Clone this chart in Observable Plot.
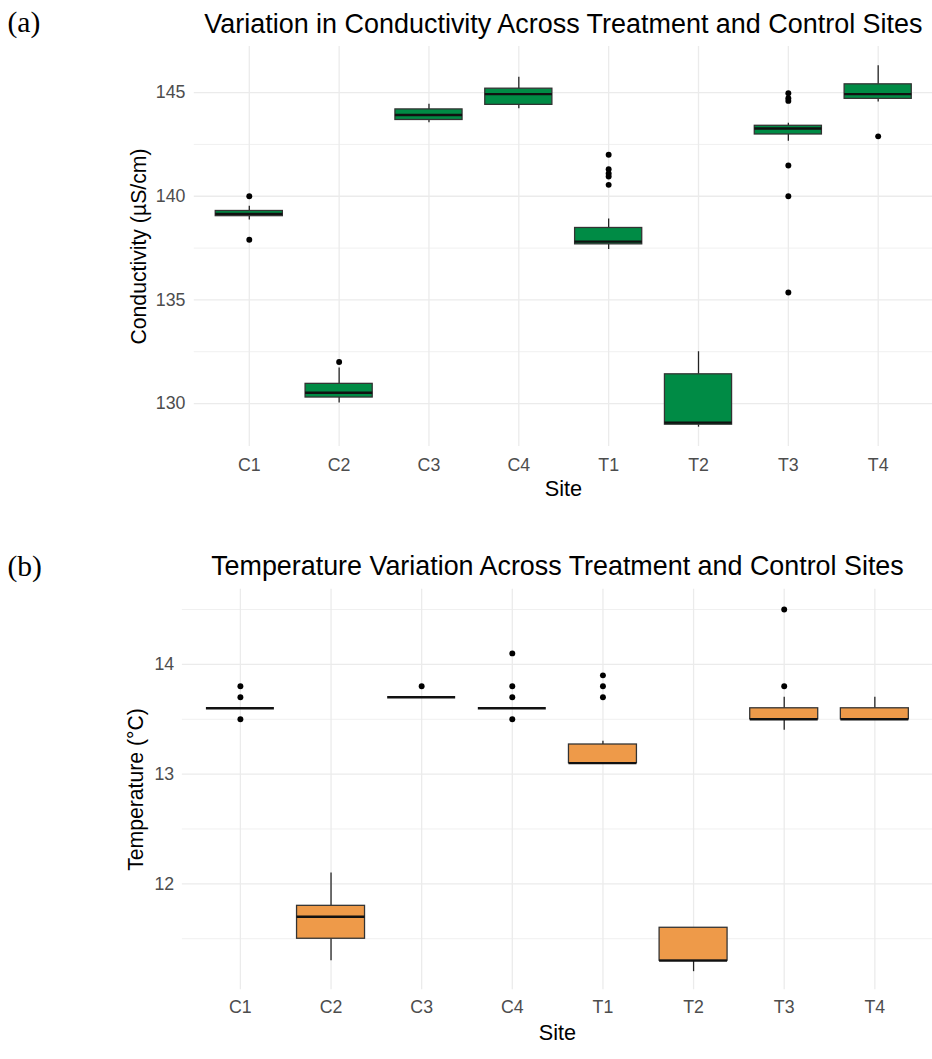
<!DOCTYPE html>
<html><head><meta charset="utf-8">
<script src="https://cdn.jsdelivr.net/npm/d3@7"></script>
<script src="https://cdn.jsdelivr.net/npm/@observablehq/plot@0.6"></script>
<style>
body{margin:0;background:#fff;}
#wrap{position:relative;width:932px;height:1059px;overflow:hidden;background:#fff;}
#wrap svg{display:block;}
</style></head><body><div id="wrap"></div>
<script>
const sites = ["C1","C2","C3","C4","T1","T2","T3","T4"];

// Panel (a): Conductivity (µS/cm) box-plot summaries
const condLow    = [138.85, 130.03, 143.55, 144.22, 137.43, 128.86, 142.65, 144.55];
const condQ1     = [139.04, 130.29, 143.68, 144.41, 137.68, 128.98, 142.98, 144.70];
const condMedian = [139.15, 130.52, 143.92, 144.93, 137.81, 129.08, 143.27, 144.93];
const condQ3     = [139.29, 130.95, 144.19, 145.19, 138.47, 131.41, 143.40, 145.40];
const condHigh   = [139.52, 131.71, 144.44, 145.74, 138.90, 132.50, 143.52, 146.30];
const condOutliers = [[140.0, 137.9], [132.0], [], [], [142.0, 141.3, 141.1, 140.95, 140.55], [], [144.97, 144.73, 144.6, 141.48, 140.0, 135.36], [142.89]];
const condTicks = [130, 135, 140, 145];
const condMinor = [132.5, 137.5, 142.5];

// Panel (b): Temperature (°C) box-plot summaries
const tempLow    = [13.6, 11.3, 13.7, 13.6, 13.1, 11.2, 13.4, 13.5];
const tempQ1     = [13.6, 11.5, 13.7, 13.6, 13.1, 11.3, 13.5, 13.5];
const tempMedian = [13.6, 11.7, 13.7, 13.6, 13.1, 11.3, 13.5, 13.5];
const tempQ3     = [13.6, 11.8, 13.7, 13.6, 13.27, 11.6, 13.6, 13.6];
const tempHigh   = [13.6, 12.1, 13.7, 13.6, 13.3, 11.6, 13.7, 13.7];
const tempOutliers = [[13.8, 13.7, 13.5], [], [13.8], [14.1, 13.8, 13.7, 13.5], [13.9, 13.8, 13.7], [], [14.5, 13.8], []];
const tempTicks = [12, 13, 14];
const tempMinor = [11.5, 12.5, 13.5, 14.5];

function panel(cfg) {
  const rows = sites.map((s, i) => ({site: s, low: cfg.low[i], q1: cfg.q1[i], median: cfg.median[i], q3: cfg.q3[i], high: cfg.high[i]}));
  const outs = sites.flatMap((s, i) => cfg.outliers[i].map(v => ({site: s, value: v})));
  const grid = "#EBEBEB";
  return Plot.plot({
    width: cfg.width, height: cfg.height,
    marginLeft: cfg.marginLeft, marginRight: 0,
    marginTop: cfg.marginTop, marginBottom: cfg.marginBottom,
    style: {fontFamily: "'Liberation Sans', Arial, sans-serif", background: "white", overflow: "visible"},
    x: {type: "band", domain: sites, paddingInner: 0.25, paddingOuter: 0.225, axis: null},
    y: {domain: cfg.domain, axis: null},
    marks: [
      Plot.gridY(cfg.minor, {stroke: "#F0F0F0", strokeOpacity: 1, strokeWidth: 1}),
      Plot.gridY(cfg.ticks, {stroke: grid, strokeOpacity: 1, strokeWidth: 1.3}),
      Plot.gridX(sites, {stroke: grid, strokeOpacity: 1, strokeWidth: 1.3}),
      Plot.ruleX(rows, {x: "site", y1: "low", y2: "q1", stroke: "#222", strokeWidth: 1.3}),
      Plot.ruleX(rows, {x: "site", y1: "q3", y2: "high", stroke: "#222", strokeWidth: 1.3}),
      Plot.barY(rows, {x: "site", y1: "q1", y2: "q3", fill: cfg.fill, stroke: "#333", strokeWidth: 1.3}),
      Plot.tickY(rows, {x: "site", y: "median", stroke: "#111", strokeWidth: 2.4}),
      Plot.dot(outs, {x: "site", y: "value", r: 3, fill: "black", stroke: "none"}),
      // tick labels
      Plot.text(sites, {x: d => d, text: d => d, frameAnchor: "bottom", lineAnchor: "top", dy: cfg.xPad, fontSize: 18, fill: "#4D4D4D"}),
      Plot.text(cfg.ticks, {y: d => d, text: d => String(d), frameAnchor: "left", textAnchor: "end", lineAnchor: "middle", dx: -cfg.yPad, fontSize: 18, fill: "#4D4D4D"}),
      Plot.text([cfg.title], {text: d => d, frameAnchor: "top", lineAnchor: "bottom", dy: cfg.titleDy, fontSize: 27.3, fill: "black"}),
      Plot.text([cfg.tag], {text: d => d, frameAnchor: "top-left", textAnchor: "start", lineAnchor: "bottom", dx: 7 - cfg.marginLeft, dy: cfg.tagDy, fontSize: 30, fill: "black", fontFamily: "'Liberation Serif', 'Times New Roman', serif"}),
      Plot.text([cfg.yLabel], {text: d => d, frameAnchor: "left", rotate: -90, textAnchor: "middle", lineAnchor: "middle", dx: cfg.yLabelDx, fontSize: 21.5, fill: "black"}),
      Plot.text(["Site"], {text: d => d, frameAnchor: "bottom", lineAnchor: "bottom", dy: 50.7, fontSize: 22, fill: "black"})
    ]
  });
}

const wrap = document.getElementById("wrap");
wrap.appendChild(panel({
  width: 944, height: 530, marginLeft: 196.3, marginTop: 46.7, marginBottom: 530 - 451.7,
  domain: [127.93, 147.22], ticks: condTicks, minor: condMinor,
  low: condLow, q1: condQ1, median: condMedian, q3: condQ3, high: condHigh, outliers: condOutliers,
  fill: "#008B45", xPad: 11.7, yPad: 9,
  title: "Variation in Conductivity Across Treatment and Control Sites", titleDy: -13.5,
  tag: "(a)", tagDy: 31.5 - 46.7,
  yLabel: "Conductivity (µS/cm)", yLabelDx: 140.7 - 196.3
}));
wrap.appendChild(panel({
  width: 946, height: 529, marginLeft: 184.6, marginTop: 596.7 - 530, marginBottom: 1059 - 1003.3,
  domain: [11.035, 14.685], ticks: tempTicks, minor: tempMinor,
  low: tempLow, q1: tempQ1, median: tempMedian, q3: tempQ3, high: tempHigh, outliers: tempOutliers,
  fill: "#EE9A49", xPad: 11.2, yPad: 8.3,
  title: "Temperature Variation Across Treatment and Control Sites", titleDy: -14,
  tag: "(b)", tagDy: 583 - 596.7,
  yLabel: "Temperature (°C)", yLabelDx: 138 - 184.6
}));
</script></body></html>
